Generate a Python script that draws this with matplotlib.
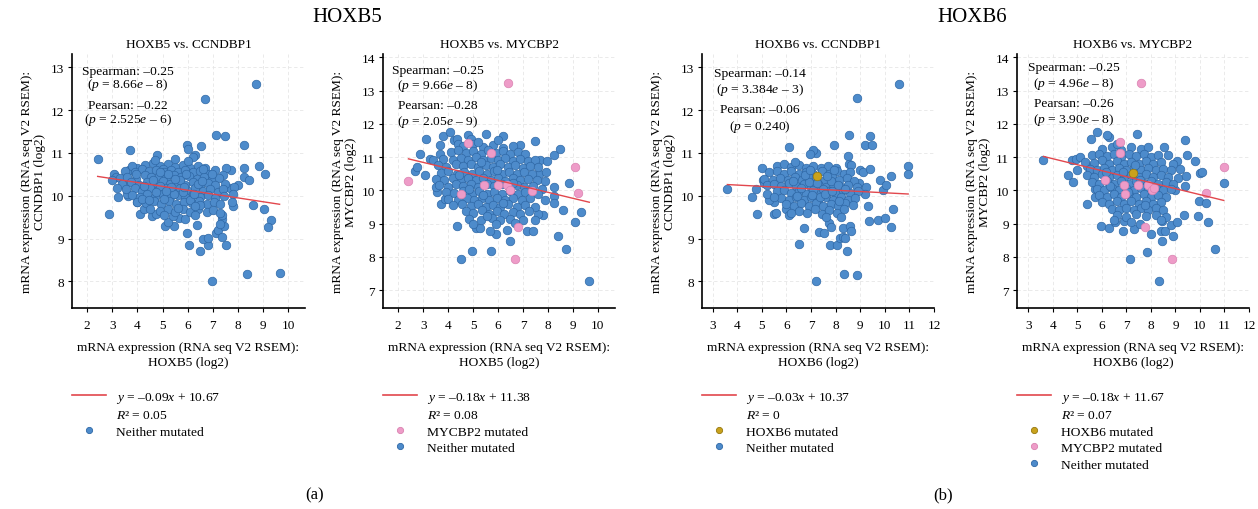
import matplotlib.pyplot as plt
from matplotlib.lines import Line2D

plt.rcParams['font.family'] = ['Liberation Serif', 'DejaVu Serif']
plt.rcParams['mathtext.fontset'] = 'custom'
plt.rcParams['mathtext.rm'] = 'Liberation Serif'
plt.rcParams['mathtext.it'] = 'Liberation Serif:italic'

# ---- data ----
# HOXB5 vs CCNDBP1 (neither mutated)
b5_ccn = [
    (2.42, 10.86), (2.88, 9.57), (3.70, 11.08), (3.22, 9.97), (3.05, 10.52), (3.13, 10.45), (3.0, 10.38),
    (3.63, 10.0), (3.46, 10.24), (3.66, 10.6), (3.6, 10.05), (6.67, 12.26), (8.72, 12.62), (7.13, 11.41),
    (7.47, 11.39), (8.22, 11.19), (6.52, 11.17), (5.99, 11.18), (6.02, 11.1), (4.79, 10.96), (6.3, 10.95),
    (6.22, 10.9), (8.84, 10.69), (9.08, 10.51), (8.22, 10.65), (8.22, 10.45), (8.45, 10.36), (8.0, 10.24),
    (7.66, 10.19), (7.85, 10.2), (7.71, 10.6), (7.51, 10.65), (7.8, 10.04), (8.6, 9.78), (9.04, 9.70),
    (9.30, 9.43), (9.17, 9.26), (9.65, 8.19), (8.37, 8.17), (6.97, 8.01), (6.49, 8.70), (6.04, 8.86),
    (6.81, 8.84), (7.53, 8.84), (6.6, 9.0), (6.81, 9.01), (7.12, 9.14), (7.22, 9.2), (7.46, 9.29),
    (7.38, 9.04), (7.35, 9.45), (7.36, 9.55), (7.3, 9.35), (5.98, 9.14), (6.36, 9.32), (5.45, 9.29),
    (5.1, 9.3), (5.2, 9.38), (5.65, 9.48), (5.9, 9.45), (5.4, 9.52), (4.12, 9.57), (4.59, 9.53),
    (4.75, 9.57), (4.26, 9.7), (4.0, 9.85), (7.8, 9.75), (7.75, 9.85),
    (4.3, 10.72), (4.6, 10.76), (4.9, 10.70), (5.2, 10.74), (5.5, 10.68), (5.8, 10.72), (6.1, 10.66),
    (6.4, 10.70), (6.7, 10.64), (4.0, 10.66), (3.8, 10.70), (5.0, 10.62),
    (3.5, 10.58), (3.9, 10.55), (4.2, 10.62), (4.45, 10.58), (4.75, 10.60), (5.05, 10.55), (5.35, 10.60),
    (5.6, 10.56), (5.9, 10.60), (6.2, 10.55), (6.5, 10.58), (6.85, 10.52), (7.1, 10.60), (7.4, 10.48),
    (3.3, 10.42), (3.6, 10.45), (3.95, 10.40), (4.3, 10.48), (4.55, 10.43), (4.85, 10.47), (5.15, 10.42),
    (5.45, 10.48), (5.75, 10.43), (6.05, 10.46), (6.35, 10.40), (6.65, 10.44), (6.95, 10.38), (7.25, 10.42),
    (3.4, 10.28), (3.75, 10.32), (4.05, 10.26), (4.4, 10.33), (4.7, 10.28), (5.0, 10.34), (5.3, 10.27),
    (5.6, 10.32), (5.9, 10.26), (6.2, 10.31), (6.5, 10.25), (6.8, 10.30), (7.1, 10.24), (7.5, 10.28),
    (3.2, 10.18), (3.55, 10.15), (3.9, 10.18), (4.2, 10.12), (4.5, 10.19), (4.8, 10.13), (5.1, 10.18),
    (5.4, 10.11), (5.7, 10.17), (6.0, 10.12), (6.3, 10.18), (6.6, 10.10), (6.9, 10.15), (7.2, 10.08),
    (7.4, 10.15), (3.8, 10.02), (4.1, 9.98), (4.4, 10.04), (4.7, 9.97), (5.0, 10.03), (5.3, 9.96),
    (5.6, 10.02), (5.9, 9.97), (6.2, 10.03), (6.5, 9.96), (6.8, 10.02), (7.1, 9.95), (7.45, 10.0),
    (4.0, 9.86), (4.35, 9.82), (4.65, 9.88), (4.95, 9.81), (5.25, 9.87), (5.55, 9.80), (5.85, 9.86),
    (6.15, 9.82), (6.45, 9.88), (6.75, 9.80), (7.05, 9.85), (7.3, 9.80), (4.5, 9.68), (4.9, 9.64),
    (5.2, 9.70), (5.5, 9.62), (5.8, 9.68), (6.1, 9.63), (6.4, 9.70), (6.75, 9.62), (7.0, 9.66),
    (7.3, 9.6), (5.05, 9.55), (6.3, 9.55), (4.6, 10.36), (4.9, 10.22), (5.2, 10.5), (5.45, 10.05),
    (5.7, 10.38), (5.95, 10.52), (6.1, 9.9), (6.4, 10.28), (5.35, 10.2), (4.75, 10.08), (6.6, 10.62),
    (5.8, 10.08), (5.05, 9.92), (6.25, 10.05), (4.25, 10.22), (3.95, 10.5), (6.95, 10.5), (5.5, 10.85),
    (6.0, 10.82), (4.7, 10.84), (6.5, 9.78), (5.6, 9.72), (4.2, 9.92),
    (4.45, 9.9), (5.15, 10.1), (5.85, 10.2), (6.55, 10.35), (5.5, 10.4), (4.9, 10.55), (6.3, 9.75),
]

# HOXB5 vs MYCBP2
b5_myc = [
    (2.88, 11.08), (3.11, 11.53), (2.69, 10.58), (2.75, 10.7), (3.07, 10.45), (3.28, 10.95), (3.4, 10.9),
    (3.68, 11.09), (3.78, 11.62), (3.68, 11.35), (3.71, 9.59), (3.86, 9.74), (3.54, 9.95), (3.5, 10.1),
    (4.08, 11.75), (4.24, 11.5), (4.34, 11.55), (4.38, 11.38), (4.36, 8.92), (4.5, 7.92), (4.8, 11.67),
    (4.9, 11.55), (4.94, 8.16), (5.1, 8.86), (5.26, 8.88), (5.5, 11.7), (5.72, 8.16), (5.91, 8.69),
    (5.69, 8.79), (6.19, 11.63), (6.49, 8.49), (6.37, 8.8), (7.15, 8.77), (7.39, 8.77), (7.49, 11.49),
    (6.89, 11.37), (7.69, 10.9), (7.98, 10.88), (7.66, 10.5), (7.93, 10.55), (7.87, 10.28), (7.81, 9.26),
    (8.24, 10.11), (8.26, 9.84), (8.24, 9.62), (8.48, 11.25), (8.25, 11.07), (8.62, 9.41), (8.41, 8.64),
    (8.74, 8.22), (8.86, 10.21), (9.08, 9.04), (9.32, 9.36), (9.66, 7.27), (7.6, 9.3), (7.5, 9.1),
    (7.75, 10.05), (7.9, 9.7),
    (4.6, 11.32), (5.0, 11.38), (5.4, 11.30), (5.8, 11.36), (6.2, 11.28), (6.6, 11.34), (5.2, 11.45),
    (6.0, 11.5), (4.1, 11.15), (4.4, 11.2), (4.7, 11.12), (5.0, 11.18), (5.3, 11.1), (5.6, 11.2),
    (5.9, 11.12), (6.2, 11.18), (6.5, 11.1), (6.8, 11.16), (7.1, 11.1), (3.8, 10.95), (4.2, 10.9),
    (4.5, 10.98), (4.8, 10.92), (5.1, 11.0), (5.4, 10.9), (5.7, 10.97), (6.0, 10.9), (6.3, 10.96),
    (6.6, 10.88), (6.9, 10.95), (7.2, 10.88), (7.5, 10.92), (3.6, 10.75), (3.9, 10.7), (4.3, 10.78),
    (4.6, 10.72), (4.9, 10.8), (5.2, 10.7), (5.5, 10.77), (5.8, 10.7), (6.1, 10.78), (6.4, 10.7),
    (6.7, 10.76), (7.0, 10.68), (7.3, 10.74), (7.6, 10.7), (3.7, 10.52), (4.0, 10.58), (4.35, 10.5),
    (4.65, 10.56), (4.95, 10.5), (5.25, 10.58), (5.55, 10.5), (5.85, 10.57), (6.15, 10.5), (6.45, 10.56),
    (6.75, 10.48), (7.05, 10.55), (7.35, 10.5), (3.5, 10.35), (3.85, 10.3), (4.2, 10.38), (4.5, 10.3),
    (4.8, 10.37), (5.1, 10.3), (5.4, 10.38), (5.7, 10.3), (6.0, 10.36), (6.3, 10.29), (6.6, 10.37),
    (6.9, 10.3), (7.2, 10.35), (7.55, 10.3), (3.65, 10.15), (4.0, 10.1), (4.3, 10.18), (4.6, 10.12),
    (4.9, 10.2), (5.2, 10.1), (5.55, 10.18), (5.85, 10.12), (6.15, 10.2), (6.45, 10.1), (6.75, 10.16),
    (7.05, 10.1), (7.4, 10.14), (3.9, 9.95), (4.25, 9.92), (4.6, 9.98), (4.95, 9.9), (5.25, 9.97),
    (5.55, 9.9), (5.85, 9.96), (6.15, 9.9), (6.5, 9.98), (6.8, 9.9), (7.1, 9.95), (7.6, 9.9),
    (4.0, 9.75), (4.4, 9.7), (4.75, 9.78), (5.05, 9.7), (5.35, 9.76), (5.65, 9.7), (5.95, 9.78),
    (6.3, 9.7), (6.6, 9.76), (6.95, 9.7), (7.3, 9.76), (4.2, 9.55), (4.55, 9.6), (4.9, 9.52),
    (5.2, 9.58), (5.5, 9.5), (5.8, 9.57), (6.1, 9.5), (6.4, 9.58), (6.75, 9.5), (7.1, 9.56),
    (7.5, 9.5), (4.7, 9.38), (5.0, 9.32), (5.35, 9.4), (5.65, 9.3), (5.95, 9.38), (6.25, 9.3),
    (6.6, 9.36), (6.9, 9.3), (7.25, 9.38), (4.85, 9.15), (5.3, 9.1), (5.75, 9.18), (6.1, 9.1),
    (6.5, 9.15), (7.0, 9.12), (5.55, 9.22), (5.0, 8.98), (5.9, 9.0), (6.7, 9.02),
    (5.3, 10.85), (5.95, 10.62), (4.45, 10.45), (6.6, 10.22), (5.4, 9.85), (6.2, 9.62), (4.85, 10.05),
]
b5_myc_mut = [
    (2.41, 10.27), (4.78, 11.43), (4.51, 9.89), (5.7, 11.13), (5.42, 10.17), (6.0, 10.17), (6.38, 10.17),
    (6.49, 10.0), (6.41, 13.22), (6.7, 7.94), (6.81, 8.89), (7.37, 9.98), (9.1, 10.7), (9.21, 9.92),
]

# HOXB6 vs CCNDBP1
b6_ccn = [
    (3.6, 10.16), (4.61, 9.97), (4.75, 10.15), (4.82, 9.57), (5.0, 10.65), (5.03, 10.38), (5.1, 10.3),
    (5.49, 9.85), (5.5, 9.57), (5.56, 9.6), (6.12, 11.13), (5.97, 9.7), (6.12, 9.54), (6.71, 9.25),
    (6.52, 8.87), (7.2, 11.0), (7.1, 11.08), (6.98, 10.98), (7.21, 8.01), (7.34, 9.15), (7.53, 9.12),
    (7.74, 9.37), (7.8, 9.28), (7.77, 8.84), (7.93, 11.19), (8.07, 8.84), (8.18, 9.02), (8.3, 9.03),
    (8.4, 9.01), (8.45, 8.7), (8.34, 8.18), (8.88, 8.16), (8.31, 9.25), (8.58, 9.29), (8.62, 9.18),
    (8.56, 11.41), (8.85, 12.28), (8.49, 10.93), (8.56, 10.75), (8.62, 10.72), (9.18, 11.19), (9.4, 11.39),
    (9.49, 11.19), (9.0, 10.6), (9.12, 10.55), (8.95, 10.3), (9.22, 10.2), (9.2, 10.05), (9.33, 9.76),
    (9.35, 9.4), (9.4, 10.63), (9.72, 9.43), (10.0, 9.47), (9.8, 10.38), (9.94, 10.13), (10.05, 10.24),
    (10.24, 9.27), (10.34, 9.7), (10.26, 10.46), (10.59, 12.62), (10.95, 10.69), (10.95, 10.51),
    (5.3, 9.9), (5.2, 10.05),
    (5.6, 10.7), (5.9, 10.74), (6.2, 10.68), (6.5, 10.72), (6.8, 10.66), (7.1, 10.7), (7.4, 10.65),
    (7.7, 10.7), (8.0, 10.66), (6.35, 10.8), (5.3, 10.55), (5.6, 10.58), (5.9, 10.52), (6.2, 10.57),
    (6.5, 10.5), (6.8, 10.56), (7.1, 10.5), (7.45, 10.58), (7.75, 10.52), (8.05, 10.57), (8.35, 10.5),
    (8.6, 10.55), (5.1, 10.4), (5.45, 10.36), (5.75, 10.42), (6.05, 10.37), (6.35, 10.44), (6.65, 10.36),
    (6.95, 10.42), (7.55, 10.38), (7.85, 10.44), (8.15, 10.36), (8.45, 10.42), (8.75, 10.35), (5.2, 10.25),
    (5.5, 10.28), (5.8, 10.22), (6.1, 10.3), (6.4, 10.22), (6.7, 10.28), (7.0, 10.2), (7.3, 10.27),
    (7.6, 10.21), (7.9, 10.28), (8.2, 10.2), (8.5, 10.26), (8.85, 10.2), (5.6, 10.1), (5.9, 10.14),
    (6.2, 10.06), (6.5, 10.12), (6.8, 10.05), (7.1, 10.13), (7.4, 10.06), (7.7, 10.12), (8.0, 10.05),
    (8.3, 10.13), (8.6, 10.06), (8.9, 10.1), (5.8, 9.95), (6.1, 9.9), (6.4, 9.97), (6.7, 9.9),
    (7.0, 9.96), (7.3, 9.9), (7.6, 9.97), (7.9, 9.9), (8.2, 9.96), (8.5, 9.9), (8.8, 9.95),
    (5.5, 9.98), (6.0, 9.8), (6.3, 9.76), (6.6, 9.83), (6.9, 9.76), (7.2, 9.82), (7.5, 9.75),
    (7.8, 9.8), (8.1, 9.77), (8.4, 9.84), (8.7, 9.78), (6.5, 9.65), (6.85, 9.6), (7.15, 9.68),
    (7.45, 9.58), (7.75, 9.66), (8.05, 9.6), (8.35, 9.68), (6.2, 9.6), (7.6, 9.5), (8.2, 9.5),
    (6.9, 10.32), (7.2, 10.45), (7.5, 10.15), (7.8, 10.35), (6.6, 10.18), (7.35, 9.98), (8.1, 10.24),
    (6.75, 10.48), (7.05, 10.02), (7.65, 10.47), (6.25, 10.35), (8.4, 10.15),
    (6.95, 10.6), (7.25, 10.3), (7.55, 10.05), (7.85, 10.12), (8.15, 9.88), (6.45, 10.0), (7.95, 10.6),
]
b6_ccn_mut = [(7.25, 10.47)]

# HOXB6 vs MYCBP2
b6_myc = [
    (3.62, 10.9), (4.63, 10.45), (4.84, 10.25), (4.78, 10.9), (4.95, 10.95), (5.09, 11.0), (5.0, 10.6),
    (5.41, 9.59), (5.38, 10.72), (5.5, 10.55), (5.57, 11.55), (5.72, 9.79), (5.74, 10.05), (5.79, 11.75),
    (5.98, 8.94), (6.28, 8.86), (6.52, 9.06), (6.85, 8.78), (6.9, 9.08), (6.3, 11.6), (6.22, 11.65),
    (7.16, 7.92), (7.43, 11.68), (7.31, 8.84), (7.54, 8.98), (7.85, 8.14), (8.01, 8.69), (8.35, 7.27),
    (8.46, 8.48), (8.43, 8.77), (8.58, 8.77), (8.45, 9.07), (8.91, 8.64), (8.8, 8.95), (9.08, 9.06),
    (9.35, 9.26), (9.4, 11.5), (9.48, 11.07), (9.07, 10.89), (9.18, 10.63), (9.1, 10.38), (9.42, 10.42),
    (9.4, 10.14), (9.0, 10.0), (9.79, 10.87), (10.02, 10.53), (10.07, 10.55), (9.96, 9.68), (9.92, 9.22),
    (10.26, 9.63), (10.34, 9.04), (10.6, 8.22), (10.97, 10.21), (8.7, 11.05), (8.55, 11.3), (8.9, 10.8),
    (6.0, 11.25), (6.4, 11.3), (6.8, 11.22), (7.2, 11.3), (7.6, 11.24), (6.6, 11.38), (7.9, 11.3),
    (5.6, 11.05), (5.9, 11.1), (6.2, 11.02), (6.5, 11.08), (6.8, 11.0), (7.1, 11.1), (7.4, 11.02),
    (7.7, 11.08), (8.0, 11.0), (8.3, 11.06), (5.3, 10.85), (5.7, 10.82), (6.0, 10.9), (6.3, 10.8),
    (6.6, 10.88), (6.9, 10.8), (7.2, 10.86), (7.5, 10.8), (7.8, 10.88), (8.1, 10.8), (8.4, 10.85),
    (5.5, 10.65), (5.8, 10.6), (6.1, 10.68), (6.4, 10.6), (6.7, 10.67), (7.0, 10.6), (7.3, 10.68),
    (7.6, 10.6), (7.9, 10.66), (8.2, 10.6), (8.5, 10.65), (8.8, 10.6), (5.4, 10.45), (5.7, 10.4),
    (6.0, 10.48), (6.3, 10.4), (6.6, 10.47), (6.9, 10.4), (7.2, 10.46), (7.5, 10.4), (7.8, 10.48),
    (8.1, 10.4), (8.4, 10.45), (8.7, 10.4), (5.6, 10.25), (5.9, 10.2), (6.2, 10.28), (6.5, 10.2),
    (6.8, 10.27), (7.1, 10.2), (7.4, 10.28), (7.7, 10.22), (8.0, 10.28), (8.3, 10.2), (8.6, 10.26),
    (8.9, 10.2), (5.8, 10.05), (6.1, 10.0), (6.4, 10.08), (6.7, 10.02), (7.0, 10.08), (7.3, 10.0),
    (7.6, 10.06), (7.9, 10.0), (8.2, 10.08), (8.5, 10.0), (8.8, 10.05), (5.9, 9.85), (6.2, 9.8),
    (6.5, 9.88), (6.8, 9.8), (7.1, 9.86), (7.4, 9.8), (7.7, 9.88), (8.0, 9.8), (8.3, 9.86),
    (8.6, 9.8), (6.0, 9.65), (6.3, 9.6), (6.6, 9.68), (6.9, 9.6), (7.2, 9.67), (7.5, 9.6),
    (7.8, 9.68), (8.1, 9.6), (8.4, 9.66), (6.4, 9.45), (6.7, 9.4), (7.0, 9.48), (7.3, 9.4),
    (7.6, 9.46), (7.9, 9.4), (8.2, 9.48), (8.5, 9.42), (6.6, 9.25), (7.0, 9.2), (7.4, 9.28),
    (7.8, 9.22), (8.2, 9.26), (8.6, 9.2), (6.5, 9.1), (7.2, 9.05), (8.4, 9.1),
    (6.85, 10.55), (7.35, 10.75), (7.05, 9.95), (7.55, 10.3), (6.35, 10.12), (7.75, 9.55), (6.15, 10.55),
]
b6_myc_b6mut = [(7.27, 10.52)]
b6_myc_mycmut = [
    (6.14, 10.3), (6.75, 11.45), (6.74, 11.13), (6.89, 10.15), (6.96, 9.9), (7.46, 10.15), (7.88, 10.15),
    (8.04, 10.01), (8.12, 10.07), (7.61, 13.22), (7.74, 8.89), (8.87, 7.94), (10.24, 9.93), (10.97, 10.7),
]

titles = ['HOXB5 vs. CCNDBP1', 'HOXB5 vs. MYCBP2', 'HOXB6 vs. CCNDBP1', 'HOXB6 vs. MYCBP2']
x_genes = ['HOXB5', 'HOXB5', 'HOXB6', 'HOXB6']
y_genes = ['CCNDBP1', 'MYCBP2', 'CCNDBP1', 'MYCBP2']
slopes = [-0.09, -0.18, -0.03, -0.18]
intercepts = [10.67, 11.38, 10.37, 11.67]
r2 = ['0.05', '0.08', '0', '0.07']
spearman = ['–0.25', '–0.25', '–0.14', '–0.25']
spearman_p = ['8.66$e$ – 8', '9.66$e$ – 8', '3.384$e$ – 3', '4.96$e$ – 8']
pearson = ['–0.22', '–0.28', '–0.06', '–0.26']
pearson_p = ['2.525$e$ – 6', '2.05$e$ – 9', '0.240', '3.90$e$ – 8']

neither = [b5_ccn, b5_myc, b6_ccn, b6_myc]
# mutated groups per panel: (points, label, colour key)
mutated = [
    [],
    [(b5_myc_mut, 'MYCBP2 mutated', 'pink')],
    [(b6_ccn_mut, 'HOXB6 mutated', 'gold')],
    [(b6_myc_b6mut, 'HOXB6 mutated', 'gold'), (b6_myc_mycmut, 'MYCBP2 mutated', 'pink')],
]

colors = {
    'blue': ('#4d8bcb', '#2f68a6'),
    'pink': ('#ee9cc8', '#d982b0'),
    'gold': ('#c9a21c', '#96780e'),
}
line_color = '#e2474d'

# layout (pixel based on a 1258x510 canvas)
W, H = 1258, 510
ax_left = [72, 383, 702, 1017]
ax_w = [233, 232, 232, 232]
ax_bottom, ax_top = 309, 55
xlims = [(1.4, 10.66), (1.39, 10.69), (2.57, 12.0), (2.54, 12.0)]
ylims = [(7.38, 13.31), (6.46, 14.1), (7.38, 13.31), (6.46, 14.1)]
xticks = [range(2, 11), range(2, 11), range(3, 13), range(3, 13)]
yticks = [range(8, 14), range(7, 15), range(8, 14), range(7, 15)]
text_rows = [
    (0.935, 0.882, 0.799, 0.745),
    (0.938, 0.878, 0.799, 0.737),
    (0.924, 0.862, 0.783, 0.718),
    (0.950, 0.886, 0.807, 0.744),
]
text_cx = [0.24, 0.235, 0.25, 0.245]

fig = plt.figure(figsize=(W / 100, H / 100), dpi=100)

for i in range(4):
    ax = fig.add_axes([ax_left[i] / W, 1 - ax_bottom / H, ax_w[i] / W, (ax_bottom - ax_top) / H])

    xs = [p[0] for p in neither[i]]
    ys = [p[1] for p in neither[i]]
    fc, ec = colors['blue']
    ax.scatter(xs, ys, s=38, c=fc, edgecolors=ec, linewidths=0.5, zorder=2)

    all_x = list(xs)
    handles = [Line2D([], [], color=line_color, lw=1.2), Line2D([], [], color='none')]
    labels = ['$y$ = %s$x$ + %.2f' % (('–%.2f' % abs(slopes[i])), intercepts[i]), '$R$² = ' + r2[i]]
    for pts, lab, key in mutated[i]:
        mx = [p[0] for p in pts]
        my = [p[1] for p in pts]
        all_x += mx
        fc2, ec2 = colors[key]
        ax.scatter(mx, my, s=38, c=fc2, edgecolors=ec2, linewidths=0.5, zorder=3)
        handles.append(Line2D([], [], ls='none', marker='o', ms=4.5, mfc=fc2, mec=ec2, mew=0.6))
        labels.append(lab)
    handles.append(Line2D([], [], ls='none', marker='o', ms=4.5, mfc=fc, mec=ec, mew=0.6))
    labels.append('Neither mutated')

    # regression line
    x0, x1 = min(all_x), max(all_x)
    ax.plot([x0, x1], [slopes[i] * x0 + intercepts[i], slopes[i] * x1 + intercepts[i]],
            color=line_color, lw=1.0, zorder=4)

    ax.set_xlim(*xlims[i])
    ax.set_ylim(*ylims[i])
    ax.set_xticks(list(xticks[i]))
    ax.set_yticks(list(yticks[i]))
    ax.grid(True, color='#e6e6e6', linestyle=(0, (4, 3)), linewidth=0.6)
    ax.set_axisbelow(True)
    for s in ['top', 'right']:
        ax.spines[s].set_visible(False)
    for s in ['left', 'bottom']:
        ax.spines[s].set_linewidth(1.2)
    ax.tick_params(length=3, width=0.8, labelsize=9.5)
    ax.tick_params(axis='x', pad=5)
    ax.tick_params(axis='y', pad=3)

    ax.set_title(titles[i], fontsize=9.5, pad=5)
    ax.set_xlabel('mRNA expression (RNA seq V2 RSEM):\n%s (log2)' % x_genes[i], fontsize=9.6,
                  labelpad=7, linespacing=1.3)
    ax.set_ylabel('mRNA expression (RNA seq V2 RSEM):\n%s (log2)' % y_genes[i], fontsize=9.6,
                  labelpad=3, linespacing=1.15)

    r = text_rows[i]
    for k, txt in enumerate(['Spearman: ' + spearman[i], '($p$ = %s)' % spearman_p[i],
                             'Pearsan: ' + pearson[i], '($p$ = %s)' % pearson_p[i]]):
        ax.text(text_cx[i], r[k], txt, transform=ax.transAxes, ha='center', va='center', fontsize=9.7)

    ax.legend(handles, labels, loc='upper left', bbox_to_anchor=(0, -0.322), frameon=False,
              fontsize=9.7, handlelength=2.5, handletextpad=0.75, borderpad=0, borderaxespad=0,
              labelspacing=0.3)

fig.text(347 / W, 1 - 17 / H, 'HOXB5', ha='center', va='center', fontsize=15)
fig.text(972 / W, 1 - 17 / H, 'HOXB6', ha='center', va='center', fontsize=15)
fig.text(315 / W, 1 - 495 / H, '(a)', ha='center', va='center', fontsize=12)
fig.text(943 / W, 1 - 495 / H, '(b)', ha='center', va='center', fontsize=12)

fig.savefig('out.png', dpi=100)
